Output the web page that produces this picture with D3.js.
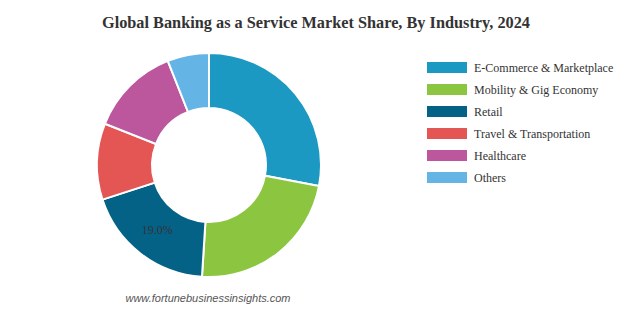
<!DOCTYPE html>
<html>
<head>
<meta charset="utf-8">
<script src="https://cdn.jsdelivr.net/npm/d3@7"></script>
<style>
  body { margin: 0; background: #fff; }
  svg { display: block; }
</style>
</head>
<body>
<svg width="623" height="310"></svg>
<script>
// data
const industries = ['E-Commerce & Marketplace', 'Mobility & Gig Economy', 'Retail', 'Travel & Transportation', 'Healthcare', 'Others'];
const shares = [28.0, 23.0, 19.0, 11.0, 13.0, 6.0];
const colors = ['#1C99C2', '#8CC641', '#056287', '#E45654', '#BC569D', '#64B5E5'];
const labelled = ['Retail']; // only this slice shows its value

const svg = d3.select('svg');
const g = svg.append('g').attr('transform', 'translate(209,165)');

// title
svg.append('text')
  .attr('x', 316)
  .attr('y', 28)
  .attr('text-anchor', 'middle')
  .style('font-family', '"Liberation Serif", "Times New Roman", serif')
  .style('font-weight', 'bold')
  .style('font-size', '16.3px')
  .style('fill', '#333')
  .text('Global Banking as a Service Market Share, By Industry, 2024');

const data = industries.map((name, i) => ({ name: name, value: shares[i], color: colors[i] }));

const pie = d3.pie().value((d) => d.value).sort(null);
const arc = d3.arc().innerRadius(57).outerRadius(112);

const arcs = pie(data);

g.selectAll('path')
  .data(arcs)
  .enter()
  .append('path')
  .attr('d', arc)
  .style('fill', (d) => d.data.color)
  .style('stroke', '#fff')
  .style('stroke-width', 2);

// value label
g.selectAll('text.val')
  .data(arcs.filter((d) => labelled.includes(d.data.name)))
  .enter()
  .append('text')
  .attr('class', 'val')
  .attr('x', (d) => arc.centroid(d)[0])
  .attr('y', (d) => arc.centroid(d)[1] - 1.5)
  .attr('dy', '0.35em')
  .attr('text-anchor', 'middle')
  .style('font-family', '"Liberation Serif", "Times New Roman", serif')
  .style('font-size', '12px')
  .style('fill', '#333')
  .text((d) => d.data.value.toFixed(1) + '%');

// legend
const legend = svg.append('g').attr('transform', 'translate(427,62)');
const item = legend.selectAll('g')
  .data(data)
  .enter()
  .append('g')
  .attr('transform', (d, i) => `translate(0,${i * 22})`);

item.append('rect')
  .attr('width', 40)
  .attr('height', 11)
  .style('fill', (d) => d.color);

item.append('text')
  .attr('x', 47)
  .attr('y', 5.5)
  .attr('dy', '0.35em')
  .style('font-family', '"Liberation Serif", "Times New Roman", serif')
  .style('font-size', '12px')
  .style('fill', '#333')
  .text((d) => d.name);

// source
svg.append('text')
  .attr('x', 208)
  .attr('y', 302)
  .attr('text-anchor', 'middle')
  .style('font-family', '"Liberation Sans", Arial, sans-serif')
  .style('font-style', 'italic')
  .style('font-size', '11px')
  .style('fill', '#555')
  .text('www.fortunebusinessinsights.com');
</script>
</body>
</html>
